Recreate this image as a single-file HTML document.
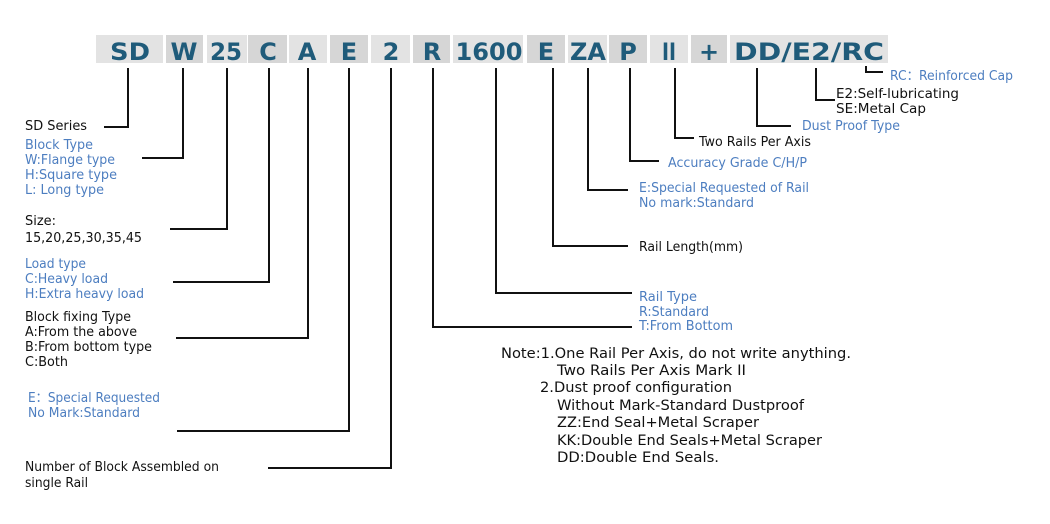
<!DOCTYPE html>
<html><head><meta charset="utf-8"><style>
html,body{margin:0;padding:0;background:#fff;}
svg{display:block}
.t{font-family:"DejaVu Sans","Liberation Sans",sans-serif;font-size:13px;fill:#111}
.b{font-family:"DejaVu Sans","Liberation Sans",sans-serif;font-size:13px;fill:#4d7ec0}
.n{font-family:"DejaVu Sans","Liberation Sans",sans-serif;font-size:14.5px;fill:#111}
.k{font-family:"DejaVu Sans","Liberation Sans",sans-serif;font-size:24px;font-weight:bold;fill:#1f5b7a}
</style></head><body>
<svg width="1050" height="524" viewBox="0 0 1050 524" xmlns="http://www.w3.org/2000/svg">
<g>
<rect x="96" y="35" width="67" height="28" fill="#e3e3e3"/>
<rect x="166" y="35" width="37" height="28" fill="#d6d6d6"/>
<rect x="207" y="35" width="40" height="28" fill="#e3e3e3"/>
<rect x="248" y="35" width="39" height="28" fill="#d6d6d6"/>
<rect x="289" y="35" width="38" height="28" fill="#e3e3e3"/>
<rect x="330" y="35" width="38" height="28" fill="#d6d6d6"/>
<rect x="371" y="35" width="39" height="28" fill="#e3e3e3"/>
<rect x="413" y="35" width="37" height="28" fill="#d6d6d6"/>
<rect x="453" y="35" width="70" height="28" fill="#e3e3e3"/>
<rect x="527" y="35" width="38" height="28" fill="#d6d6d6"/>
<rect x="568" y="35" width="39" height="28" fill="#e3e3e3"/>
<rect x="609" y="35" width="38" height="28" fill="#d6d6d6"/>
<rect x="650" y="35" width="38" height="28" fill="#e3e3e3"/>
<rect x="691" y="35" width="36" height="28" fill="#d6d6d6"/>
<rect x="730" y="35" width="158" height="28" fill="#e3e3e3"/>
</g>
<g class="k" text-anchor="middle">
<text x="130" y="60" textLength="40" lengthAdjust="spacingAndGlyphs">SD</text>
<text x="184" y="60" textLength="27" lengthAdjust="spacingAndGlyphs">W</text>
<text x="226" y="60" textLength="32" lengthAdjust="spacingAndGlyphs">25</text>
<text x="268" y="60">C</text>
<text x="307" y="60">A</text>
<text x="349" y="60">E</text>
<text x="391" y="60">2</text>
<text x="432" y="60">R</text>
<text x="489" y="60" textLength="67" lengthAdjust="spacingAndGlyphs">1600</text>
<text x="546" y="60">E</text>
<text x="588" y="60" textLength="36" lengthAdjust="spacingAndGlyphs">ZA</text>
<text x="628" y="60">P</text>
<text x="669" y="60" textLength="14" lengthAdjust="spacingAndGlyphs">II</text>
<text x="709" y="60">+</text>
<text x="809" y="60" textLength="150" lengthAdjust="spacingAndGlyphs">DD/E2/RC</text>
</g>
<g stroke="#111" stroke-width="2" fill="none">
<polyline points="128,68 128,127 104,127"/>
<polyline points="183,68 183,158 142,158"/>
<polyline points="227,68 227,229 170,229"/>
<polyline points="269,68 269,282 173,282"/>
<polyline points="308,68 308,338 176,338"/>
<polyline points="349,68 349,431 177,431"/>
<polyline points="391,68 391,468 268,468"/>
<polyline points="433,68 433,327 632,327"/>
<polyline points="496,68 496,293 632,293"/>
<polyline points="553,68 553,246 628,246"/>
<polyline points="588,68 588,190 628,190"/>
<polyline points="630,68 630,161 659,161"/>
<polyline points="675,68 675,138 694,138"/>
<polyline points="757,68 757,126 791,126"/>
<polyline points="816,68 816,100 835,100"/>
<polyline points="866,66 866,72 883,72"/>
</g>
<g>
<text class="t" x="25" y="130" textLength="62" lengthAdjust="spacingAndGlyphs">SD Series</text>
<text class="b" x="25" y="149" textLength="68" lengthAdjust="spacingAndGlyphs">Block Type</text>
<text class="b" x="25" y="164" textLength="90" lengthAdjust="spacingAndGlyphs">W:Flange type</text>
<text class="b" x="25" y="179" textLength="92" lengthAdjust="spacingAndGlyphs">H:Square type</text>
<text class="b" x="25" y="194" textLength="79" lengthAdjust="spacingAndGlyphs">L: Long type</text>
<text class="t" x="25" y="225" textLength="31" lengthAdjust="spacingAndGlyphs">Size:</text>
<text class="t" x="25" y="242" textLength="117" lengthAdjust="spacingAndGlyphs">15,20,25,30,35,45</text>
<text class="b" x="25" y="268" textLength="61" lengthAdjust="spacingAndGlyphs">Load type</text>
<text class="b" x="25" y="283" textLength="83" lengthAdjust="spacingAndGlyphs">C:Heavy load</text>
<text class="b" x="25" y="298" textLength="119" lengthAdjust="spacingAndGlyphs">H:Extra heavy load</text>
<text class="t" x="25" y="321" textLength="106" lengthAdjust="spacingAndGlyphs">Block fixing Type</text>
<text class="t" x="25" y="336" textLength="112" lengthAdjust="spacingAndGlyphs">A:From the above</text>
<text class="t" x="25" y="351" textLength="127" lengthAdjust="spacingAndGlyphs">B:From bottom type</text>
<text class="t" x="25" y="366" textLength="43" lengthAdjust="spacingAndGlyphs">C:Both</text>
<text class="b" x="28" y="402" textLength="132" lengthAdjust="spacingAndGlyphs">E：Special Requested</text>
<text class="b" x="28" y="417" textLength="112" lengthAdjust="spacingAndGlyphs">No Mark:Standard</text>
<text class="t" x="25" y="471" textLength="194" lengthAdjust="spacingAndGlyphs">Number of Block Assembled on</text>
<text class="t" x="25" y="487" textLength="63" lengthAdjust="spacingAndGlyphs">single Rail</text>

<text class="b" x="890" y="80" textLength="123" lengthAdjust="spacingAndGlyphs">RC：Reinforced Cap</text>
<text class="t" x="836" y="98" textLength="123" lengthAdjust="spacingAndGlyphs">E2:Self-lubricating</text>
<text class="t" x="836" y="113" textLength="90" lengthAdjust="spacingAndGlyphs">SE:Metal Cap</text>
<text class="b" x="802" y="130" textLength="98" lengthAdjust="spacingAndGlyphs">Dust Proof Type</text>
<text class="t" x="699" y="146" textLength="112" lengthAdjust="spacingAndGlyphs">Two Rails Per Axis</text>
<text class="b" x="668" y="167" textLength="139" lengthAdjust="spacingAndGlyphs">Accuracy Grade C/H/P</text>
<text class="b" x="639" y="192" textLength="170" lengthAdjust="spacingAndGlyphs">E:Special Requested of Rail</text>
<text class="b" x="639" y="207" textLength="115" lengthAdjust="spacingAndGlyphs">No mark:Standard</text>
<text class="t" x="639" y="251" textLength="104" lengthAdjust="spacingAndGlyphs">Rail Length(mm)</text>
<text class="b" x="639" y="301" textLength="58" lengthAdjust="spacingAndGlyphs">Rail Type</text>
<text class="b" x="639" y="316" textLength="70" lengthAdjust="spacingAndGlyphs">R:Standard</text>
<text class="b" x="639" y="330" textLength="94" lengthAdjust="spacingAndGlyphs">T:From Bottom</text>

<text class="n" x="501" y="358" textLength="350" lengthAdjust="spacingAndGlyphs">Note:1.One Rail Per Axis, do not write anything.</text>
<text class="n" x="557" y="375" textLength="189" lengthAdjust="spacingAndGlyphs">Two Rails Per Axis Mark II</text>
<text class="n" x="540" y="392" textLength="192" lengthAdjust="spacingAndGlyphs">2.Dust proof configuration</text>
<text class="n" x="557" y="410" textLength="247" lengthAdjust="spacingAndGlyphs">Without Mark-Standard Dustproof</text>
<text class="n" x="557" y="427" textLength="202" lengthAdjust="spacingAndGlyphs">ZZ:End Seal+Metal Scraper</text>
<text class="n" x="557" y="445" textLength="265" lengthAdjust="spacingAndGlyphs">KK:Double End Seals+Metal Scraper</text>
<text class="n" x="557" y="462" textLength="162" lengthAdjust="spacingAndGlyphs">DD:Double End Seals.</text>
</g>
</svg>
</body></html>
